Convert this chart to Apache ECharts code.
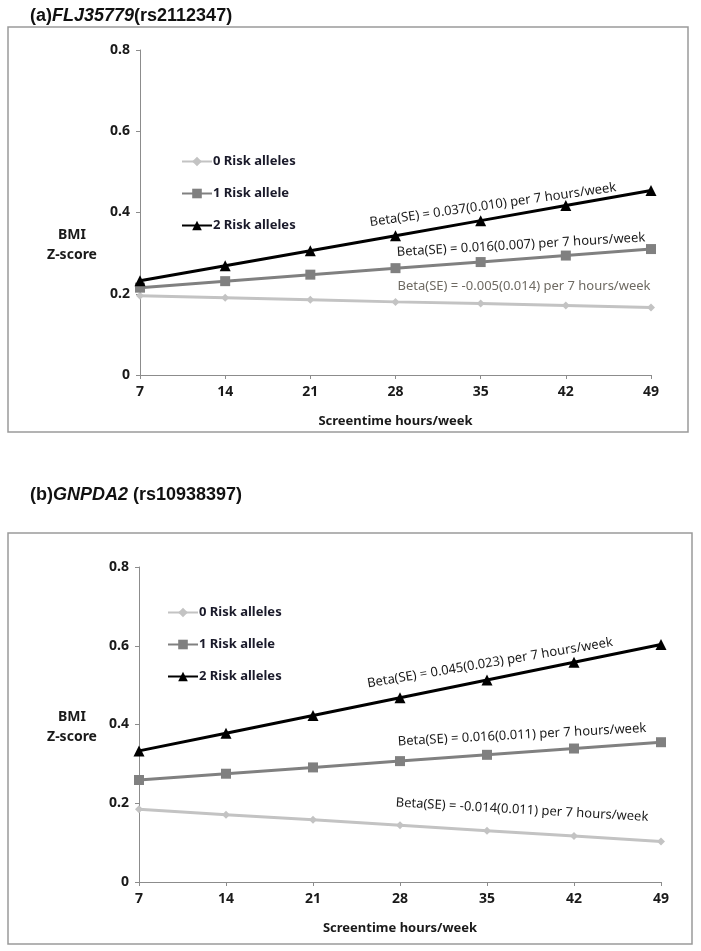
<!DOCTYPE html>
<html>
<head>
<meta charset="utf-8">
<script src="https://cdn.jsdelivr.net/npm/echarts@6/dist/echarts.min.js"></script>
<style>
    html, body { margin: 0; padding: 0; background: #fff; }
    #chart { width: 701px; height: 951px; }
</style>
</head>
<body>
<div id="chart"></div>
<script>
    // screentime (hours/week) on the x axis
    var hours = [7, 14, 21, 28, 35, 42, 49];
    var seriesNames = ['0 Risk alleles', '1 Risk allele', '2 Risk alleles'];
    var yTicks = [0, 0.2, 0.4, 0.6, 0.8];

    // (a) FLJ35779 (rs2112347)
    var a0 = [0.195, 0.190, 0.185, 0.180, 0.176, 0.171, 0.166];
    var a1 = [0.215, 0.231, 0.247, 0.263, 0.278, 0.294, 0.310];
    var a2 = [0.232, 0.269, 0.306, 0.343, 0.380, 0.417, 0.454];
    var betaA = ['Beta(SE) = -0.005(0.014) per 7 hours/week',
                 'Beta(SE) = 0.016(0.007) per 7 hours/week',
                 'Beta(SE) = 0.037(0.010) per 7 hours/week'];

    // (b) GNPDA2 (rs10938397)
    var b0 = [0.185, 0.171, 0.158, 0.144, 0.130, 0.117, 0.103];
    var b1 = [0.259, 0.275, 0.291, 0.307, 0.323, 0.339, 0.355];
    var b2 = [0.333, 0.378, 0.423, 0.468, 0.513, 0.558, 0.603];
    var betaB = ['Beta(SE) = -0.014(0.011) per 7 hours/week',
                 'Beta(SE) = 0.016(0.011) per 7 hours/week',
                 'Beta(SE) = 0.045(0.023) per 7 hours/week'];

    var colors = ['#c3c3c3', '#808080', '#000000'];
    var symbols = ['diamond', 'rect', 'triangle'];
    var symbolSizes = [8, 10, 11];
    var font = '"Noto Sans", "DejaVu Sans", sans-serif';
    var axisColor = '#8c8c8c';

    var chart = echarts.init(document.getElementById('chart'));

    function mkSeries(idx, vals, gi) {
        return {
            name: seriesNames[idx],
            type: 'line',
            xAxisIndex: gi,
            yAxisIndex: gi,
            data: hours.map(function (h, i) { return [h, vals[i]]; }),
            symbol: symbols[idx],
            symbolSize: symbolSizes[idx],
            color: colors[idx],
            lineStyle: {width: 3, color: colors[idx]},
            itemStyle: {color: colors[idx]},
            z: 3 + idx,
            animation: false
        };
    }

    function xAxis(gi) {
        return {
            type: 'value', gridIndex: gi, min: 7, max: 49, interval: 7,
            name: 'Screentime hours/week', nameLocation: 'middle', nameGap: 40,
            nameTextStyle: {fontFamily: font, fontWeight: 'bold', fontSize: 13, color: '#1a1a1a'},
            axisLine: {lineStyle: {color: axisColor, width: 1}},
            axisTick: {show: true, length: 4, lineStyle: {color: axisColor}},
            axisLabel: {fontFamily: font, fontWeight: 'bold', fontSize: 14, color: '#1a1a1a', margin: 10},
            splitLine: {show: false}
        };
    }

    function yAxis(gi) {
        return {
            type: 'value', gridIndex: gi, min: yTicks[0], max: yTicks[yTicks.length - 1], interval: 0.2,
            axisLine: {show: true, lineStyle: {color: axisColor, width: 1}},
            axisTick: {show: true, length: 4, lineStyle: {color: axisColor}},
            axisLabel: {
                fontFamily: font, fontWeight: 'bold', fontSize: 14, color: '#1a1a1a', margin: 10,
                formatter: function (v) { return v === 0 ? '0' : v.toFixed(1); }
            },
            splitLine: {show: false}
        };
    }

    function legend(left, top) {
        return {
            data: seriesNames, orient: 'vertical', left: left, top: top,
            itemWidth: 30, itemHeight: 12, itemGap: 19,
            selectedMode: false,
            textStyle: {fontFamily: font, fontWeight: 'bold', fontSize: 13, color: '#1a1a2a', padding: [0, 0, 0, -4]}
        };
    }

    function betaText(txt, x, y, deg, color) {
        return {
            type: 'text', x: x, y: y, rotation: deg * Math.PI / 180,
            style: {text: txt, fill: color, font: '13px ' + font, align: 'center', verticalAlign: 'middle'}
        };
    }

    function titleText(letter, gene, rs, y) {
        return {
            type: 'text', x: 30, y: y,
            style: {
                text: '{n|' + letter + '}{i|' + gene + '}{n|' + rs + '}',
                verticalAlign: 'middle',
                rich: {
                    n: {fontFamily: '"Liberation Sans", Arial, sans-serif', fontWeight: 'bold', fontSize: 18, fill: '#111'},
                    i: {fontFamily: '"Liberation Sans", Arial, sans-serif', fontWeight: 'bold', fontStyle: 'italic', fontSize: 18, fill: '#111'}
                }
            }
        };
    }

    function yName(y) {
        return {
            type: 'text', x: 72, y: y,
            style: {text: 'BMI\nZ-score', fill: '#1a1a1a', font: 'bold 14px ' + font,
                    align: 'center', verticalAlign: 'middle', lineHeight: 20}
        };
    }

    chart.setOption({
        backgroundColor: '#fff',
        animation: false,
        grid: [
            {left: 140, top: 50, width: 511, height: 325},
            {left: 139, top: 567, width: 522, height: 315}
        ],
        xAxis: [xAxis(0), xAxis(1)],
        yAxis: [yAxis(0), yAxis(1)],
        legend: [legend(176, 150), legend(162, 601)],
        graphic: [
            {type: 'rect', shape: {x: 8, y: 27, width: 680, height: 405},
             style: {fill: 'none', stroke: '#9a9a9a', lineWidth: 1.5}},
            {type: 'rect', shape: {x: 8, y: 533, width: 684, height: 411},
             style: {fill: 'none', stroke: '#9a9a9a', lineWidth: 1.5}},
            titleText('(a)', 'FLJ35779', '(rs2112347)', 16),
            titleText('(b)', 'GNPDA2', ' (rs10938397)', 495),
            yName(245),
            yName(727),
            betaText(betaA[0], 524, 286, 0, '#6e6a62'),
            betaText(betaA[1], 521, 245, 3.4, '#1a1a1a'),
            betaText(betaA[2], 493, 205, 8.1, '#1a1a1a'),
            betaText(betaB[0], 522, 810, -3.3, '#1a1a1a'),
            betaText(betaB[1], 522, 735, 3.1, '#1a1a1a'),
            betaText(betaB[2], 490, 663, 9.6, '#1a1a1a')
        ],
        series: [
            mkSeries(0, a0, 0), mkSeries(1, a1, 0), mkSeries(2, a2, 0),
            mkSeries(0, b0, 1), mkSeries(1, b1, 1), mkSeries(2, b2, 1)
        ]
    });
</script>
</body>
</html>
